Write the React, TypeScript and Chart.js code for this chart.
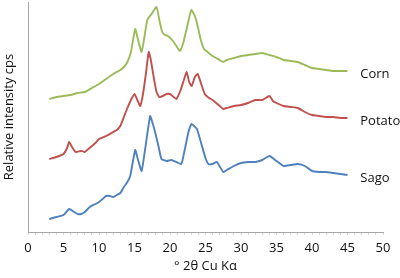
import React, { useEffect, useRef } from "react";
import { Chart, registerables } from "chart.js";

Chart.register(...registerables);

const cornX = [3, 4, 5, 6, 7, 8, 9, 10, 11, 12, 13, 13.5, 14, 14.5, 15.1, 15.5, 16, 16.4, 16.8, 17.4, 18.1, 18.5, 18.9, 19.3, 19.7, 20.3, 20.9, 21.4, 21.9, 22.4, 23, 23.5, 23.9, 24.3, 24.8, 25.3, 26, 27, 27.5, 28, 29, 30, 31, 32, 33, 34, 35, 36, 37, 38, 39, 40, 41, 42, 43, 44, 45];
const cornY = [133, 135, 136, 137, 139, 140, 144, 148, 153, 158, 162, 165, 170, 180, 203, 192, 180, 195, 212, 218, 225, 212, 200, 197, 196, 192, 186, 181, 190, 205, 222, 216, 206, 193, 183, 180, 176, 172, 170, 172, 174, 176, 177, 178, 179, 177, 175, 172, 171, 170, 167, 164, 163, 162, 161, 161, 161];

const potatoX = [3, 4, 5, 5.5, 5.8, 6.2, 6.7, 7.5, 8, 8.5, 9, 9.5, 10, 11, 12, 12.5, 13, 13.5, 14, 14.5, 15, 15.4, 15.8, 16.2, 16.6, 17, 17.3, 17.7, 18.1, 18.5, 19, 19.5, 20, 20.5, 20.9, 21.5, 22, 22.35, 22.7, 23.05, 23.5, 23.9, 24.4, 24.9, 25.5, 26, 27, 27.5, 28, 29, 30, 31, 32, 33, 34, 34.5, 35, 36, 37, 38, 39, 40, 41, 42, 43, 44, 45];
const potatoY = [73, 75, 78, 84, 90, 85, 80, 81, 80, 83, 86, 89, 93, 96, 100, 102, 106, 115, 124, 132, 138, 132, 126, 138, 158, 180, 172, 155, 140, 135, 136, 138, 138, 135, 133, 142, 153, 160, 150, 146, 155, 158, 148, 138, 134, 132, 126, 123, 124, 126, 127, 129, 132, 132, 136, 131, 129, 126, 125, 124, 120, 117, 116, 115, 115, 114, 114];

const sagoX = [3, 4, 5, 5.8, 6.5, 7, 7.5, 8, 8.7, 9.5, 10, 10.5, 11, 11.5, 12, 12.5, 13, 13.5, 14, 14.4, 15.1, 15.5, 16, 16.5, 17.2, 17.5, 17.9, 18.4, 18.8, 19.5, 20.2, 20.9, 21.6, 22.1, 22.6, 23.05, 23.4, 23.8, 24.5, 25, 25.4, 26, 26.6, 27.5, 28, 29, 30, 31, 32, 33, 34, 35, 36, 37, 38, 39, 40, 41, 42, 43, 44, 45];
const sagoY = [13, 15, 17, 23, 20, 18, 18, 20, 25, 28, 30, 33, 36, 36, 35, 37, 39, 45, 50, 56, 82, 72, 61, 83, 116, 110, 100, 85, 73, 71, 72, 70, 68, 83, 100, 108, 106, 103, 86, 74, 68, 68, 70, 60, 62, 66, 69, 70, 70, 72, 76, 71, 66, 67, 68, 66, 61, 60, 60, 59, 58, 57];

const seriesNames = ["Corn", "Potato", "Sago"];
const seriesColors = ["#9BBB59", "#C0504D", "#4F81BD"];

const xTitle = "° 2θ Cu Kα";
const yTitle = "Relative intensity cps";

const FONT = "'Open Sans', 'Noto Sans', sans-serif";

function toPoints(xs: number[], ys: number[]) {
  return xs.map((x, i) => ({ x, y: ys[i] }));
}

const endLabels = {
  id: "endLabels",
  afterDatasetsDraw(chart: any) {
    const ctx = chart.ctx;
    const xs = chart.scales.x;
    ctx.save();
    ctx.font = `13px ${FONT}`;
    ctx.fillStyle = "#111";
    ctx.textAlign = "left";
    ctx.textBaseline = "middle";
    chart.data.datasets.forEach((ds: any, i: number) => {
      const meta = chart.getDatasetMeta(i);
      const last = meta.data[meta.data.length - 1];
      if (!last) return;
      ctx.fillText(ds.label, xs.getPixelForValue(46.8), last.y + 3);
    });
    ctx.restore();
  },
};

export default function App() {
  const ref = useRef<HTMLCanvasElement | null>(null);
  useEffect(() => {
    document.body.style.margin = "0";
    if (!ref.current) return;
    const data = [toPoints(cornX, cornY), toPoints(potatoX, potatoY), toPoints(sagoX, sagoY)];
    const chart = new Chart(ref.current, {
      type: "line",
      data: {
        datasets: data.map((d, i) => ({
          label: seriesNames[i],
          data: d,
          borderColor: seriesColors[i],
          borderWidth: 1.9,
          pointRadius: 0,
          tension: 0.15,
          fill: false,
        })),
      },
      options: {
        animation: false,
        responsive: false,
        maintainAspectRatio: false,
        layout: { padding: { top: 2, right: 17, left: 0, bottom: 0 } },
        plugins: { legend: { display: false }, tooltip: { enabled: false } },
        scales: {
          x: {
            type: "linear",
            min: 0,
            max: 50,
            afterFit: (s: any) => {
              s.height = 46;
            },
            border: { display: true, color: "#A6A6A6", width: 1 },
            grid: { display: true, drawOnChartArea: false, drawTicks: true, tickLength: 3, color: "#D9D9D9" },
            ticks: {
              stepSize: 1,
              autoSkip: false,
              maxRotation: 0,
              padding: 5,
              color: "#111",
              font: { family: FONT, size: 13 },
              callback: (v: any) => (Number(v) % 5 === 0 ? String(v) : ""),
            },
            title: {
              display: true,
              text: xTitle,
              color: "#111",
              font: { family: FONT, size: 13 },
              padding: { top: 2, bottom: 4 },
            },
          },
          y: {
            type: "linear",
            min: 0,
            max: 230,
            afterFit: (s: any) => {
              s.width = 28;
            },
            border: { display: true, color: "#A6A6A6", width: 1 },
            grid: { display: false },
            ticks: { display: false },
            title: {
              display: true,
              text: yTitle,
              color: "#111",
              font: { family: FONT, size: 13 },
              padding: { top: 1, bottom: 2 },
            },
          },
        },
      },
      plugins: [endLabels],
    });
    return () => chart.destroy();
  }, []);
  return (
    <div style={{ width: 400, height: 278 }}>
      <canvas ref={ref} width={400} height={278} />
    </div>
  );
}
